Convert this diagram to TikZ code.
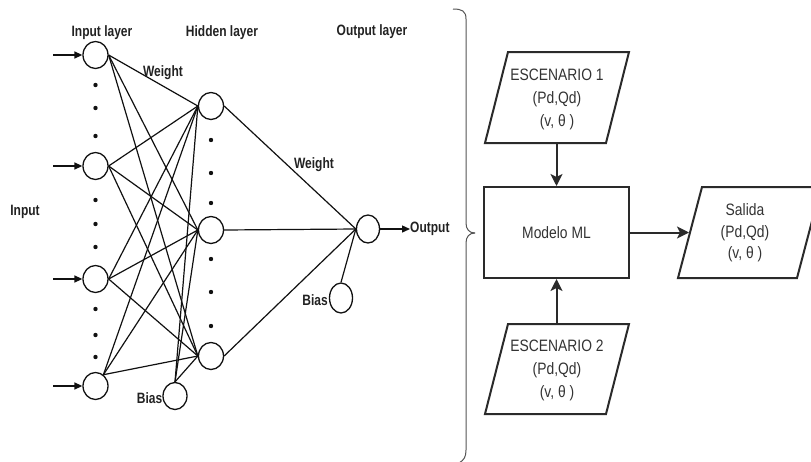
\documentclass[tikz,border=0pt]{standalone}
\usepackage{fontspec}
\setmainfont{Liberation Sans}
\newfontfamily\nnfont[FakeStretch=0.8]{Liberation Sans}
\newfontfamily\flfont[FakeStretch=0.84]{Liberation Sans}
\usetikzlibrary{arrows.meta,shapes.geometric}
\definecolor{nnline}{HTML}{111111}
\definecolor{nntext}{HTML}{222222}
\definecolor{flline}{HTML}{2A2A2A}
\definecolor{fltext}{HTML}{333333}
\definecolor{bracecol}{HTML}{555555}
\tikzset{
  neuron/.style={ellipse, draw=nnline, line width=1.3pt, minimum width=25pt, minimum height=27pt, inner sep=0pt},
  outneuron/.style={neuron, minimum width=23pt, minimum height=28pt},
  conn/.style={draw=nnline, line width=1.2pt},
  nnlabel/.style={font=\nnfont\bfseries\fontsize{15}{17}\selectfont, text=nntext, inner sep=0pt},
  inarrow/.style={draw=nnline, line width=1.4pt, -{Triangle[length=8pt,width=7pt]}},
  fltxt/.style={font=\flfont\fontsize{16.5}{23}\selectfont, text=fltext, align=center, inner sep=0pt},
  flshape/.style={draw=flline, line width=2pt},
  flarrow/.style={draw=flline, line width=2pt, -{Stealth[length=12pt,width=12pt,inset=3pt]}},
}
\begin{document}
\begin{tikzpicture}[x=1pt, y=-1pt]
\useasboundingbox (0,0) rectangle (811,461);
\begin{scope}
\clip (0,0) rectangle (811,461);

% ---------- Neural network ----------
\node[neuron] (i1) at (95.5,55) {};
\node[neuron] (i2) at (95.5,166) {};
\node[neuron] (i3) at (95.5,279) {};
\node[neuron] (i4) at (95.5,386) {};
\node[neuron] (h1) at (211,106) {};
\node[neuron] (h2) at (211,230) {};
\node[neuron] (h3) at (211,356) {};
\node[neuron, minimum width=24pt] (hb) at (175,396) {};
\node[outneuron] (o) at (368,229) {};
\node[outneuron, minimum height=30pt] (ob) at (341,298) {};

% input arrows
\coordinate (a1) at (53,55);
\coordinate (a2) at (53,166);
\coordinate (a3) at (53,279);
\coordinate (a4) at (53,386);
\draw[inarrow] (a1) -- (i1.west);
\draw[inarrow] (a2) -- (i2.west);
\draw[inarrow] (a3) -- (i3.west);
\draw[inarrow] (a4) -- (i4.west);

% input -> hidden, bias -> hidden, hidden -> output
\foreach \h in {h1,h2,h3}{
  \draw[conn] (i1.east) -- (\h.west);
  \draw[conn] (i2.east) -- (\h.west);
  \draw[conn] (i3.east) -- (\h.west);
  \draw[conn] (i4.55) -- (\h.west);
  \draw[conn] (hb.north) -- (\h.west);
  \draw[conn] (\h.east) -- (o.west);
}
\draw[conn] (ob.north) -- (o.west);

% output arrow
\coordinate (oa) at (410,229);
\draw[inarrow] (o.east) -- (oa);

% dots
\foreach \y in {85,108,136,200,224,247,309,335,357}
  \fill[nnline] (95.5,\y) circle[radius=2.2pt];
\foreach \y in {140,173,203,259,292,326}
  \fill[nnline] (211,\y) circle[radius=2.2pt];

% labels
\node[nnlabel] (lin) at (102,33) {Input layer};
\node[nnlabel] (lhid) at (222,33) {Hidden layer};
\node[nnlabel] (lout) at (372,32) {Output layer};
\node[nnlabel] (w1) at (163,73) {Weight};
\node[nnlabel] (w2) at (314,165) {Weight};
\node[nnlabel] (linput) at (25,212) {Input};
\node[nnlabel, anchor=east] (lb1) at (162.5,398) {Bias};
\node[nnlabel, anchor=east] (lb2) at (328,300) {Bias};
\node[nnlabel, anchor=west] (lo) at (oa) {Output};

% ---------- Brace ----------
\draw[bracecol, line width=1pt] (453,9) .. controls (462,9) and (466,11) .. (466,19) -- (466,223) .. controls (466,229) and (469,233) .. (475,233);
\draw[bracecol, line width=1pt] (475,233) .. controls (469,233) and (466,237) .. (466,243) -- (466,450) .. controls (466,457) and (464,460) .. (459,463);

% ---------- Flowchart ----------
\draw[flshape] (508,52) -- (629,52) -- (606,143) -- (485,143) -- cycle;
\node[fltxt] (esc1) at (557,99) {ESCENARIO 1\\(Pd,Qd)\\(v, θ )};
\coordinate (e1b) at (556.5,143);

\node[flshape, rectangle, minimum width=145pt, minimum height=91pt, inner sep=0pt] (ml) at (556.5,232.5) {};
\node[fltxt] (mltxt) at (ml.center) {Modelo ML};

\draw[flshape] (508,324) -- (629,324) -- (606,414) -- (485,414) -- cycle;
\node[fltxt] (esc2) at (557,370.5) {ESCENARIO 2\\(Pd,Qd)\\(v, θ )};
\coordinate (e2t) at (556.5,324);

\draw[flshape] (702,187) -- (821,187) -- (797,278) -- (678,278) -- cycle;
\node[fltxt, font=\flfont\fontsize{16.5}{21.5}\selectfont] (sal) at (745,233) {Salida\\(Pd,Qd)\\(v, θ )};
\coordinate (sl) at (689,232.5);

\draw[flarrow] (e1b) -- (ml.north);
\draw[flarrow] (e2t) -- (ml.south);
\draw[flarrow] (ml.east) -- (sl);
\end{scope}
\end{tikzpicture}
\end{document}
